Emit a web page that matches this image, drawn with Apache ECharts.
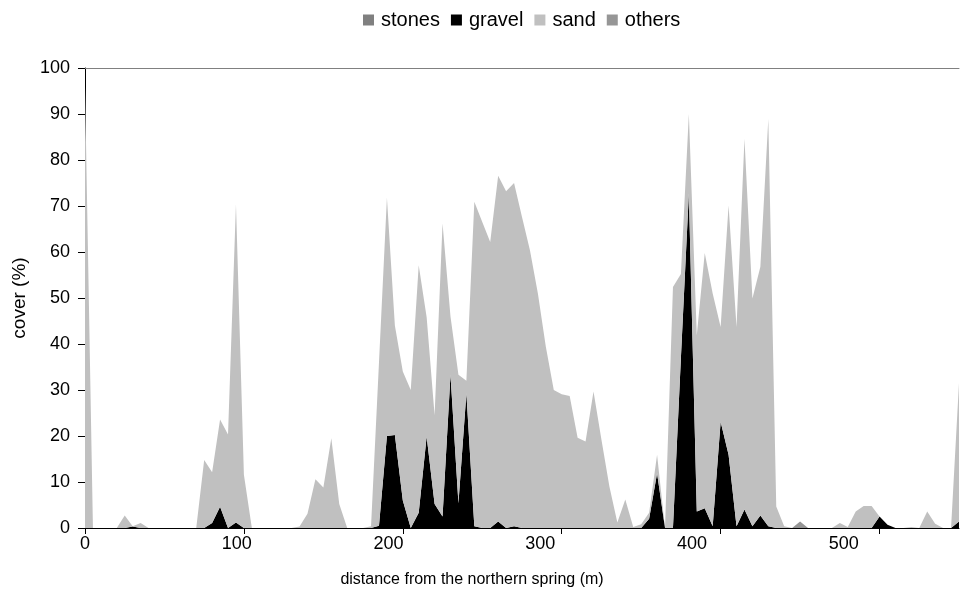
<!DOCTYPE html>
<html>
<head>
<meta charset="utf-8">
<script src="https://cdn.jsdelivr.net/npm/echarts@6/dist/echarts.min.js"></script>
<style>html,body{margin:0;padding:0;background:#fff}#c{width:962px;height:609px}</style>
</head>
<body>
<div id="c"></div>
<script>
// distance (m), sampled every 5 m
const distances = [];
for (let d = 0; d <= 550; d += 5) distances.push(d);

const xTickLabels = [0, 100, 200, 300, 400, 500];

// cover values (%) per 5 m sample, index 0..110
const stones = [
  0,0,0,0,0,0,0,0,0,0, 0,0,0,0,0,0,0,0,0,0,
  0,0,0,0,0,0,0,0,0,0, 0,0,0,0,0,0,0,0,0,0,
  0,0,0,0,0,0,0,0,0,0, 0,0,0,0,0,0,0,0,0,0,
  0,0,0,0,0,0,0,0,0,0, 0,0,0,0,0,0,0,0,0,0,
  0,0,0,0,0,0,0,0,0,0, 0,0,0,0,0,0,0,0,0,0,
  0,0,0,0,0,0,0,0,0,0, 0
];
const gravel = [
  0,0,0,0,0,0,0.3,0,0,0, 0,0,0,0,0,0,1.1,4.6,0,1.2,
  0,0,0,0,0,0,0,0,0,0, 0,0,0,0,0,0,0,0.5,20,20.2,
  6,0,3.3,19.9,5.2,2.5,33.3,5.4,29.3,0.4, 0,0,1.4,0,0.4,0,0,0,0,0,
  0,0,0,0,0,0,0,0,0,0, 0,2,11.9,0,0,37,72.7,3.6,4.3,0.4,
  23.1,15.9,0.4,4.0,0.4,2.7,0.4,0,0,0, 0,0,0,0,0,0,0,0,0,0,
  2.5,0.7,0,0,0,0,0,0,0,0, 1.4
];
const sand = [
  96,0,0,0,0,2.7,0.1,1.1,0,0, 0,0,0,0,0,14.8,11.0,19.0,20.3,69.2,
  11.6,0,0,0,0,0,0,0.3,3.1,10.6, 8.8,19.5,5.2,0,0,0,0.4,35.5,51.8,23.8,
  28,30,53.8,25.9,19.3,63.7,12.7,27.9,2.7,70.5, 66.5,62.2,75.2,73.2,74.6,67.6,60.4,51,39.4,30,
  29.1,28.7,19.6,18.8,29.7,19.2,9,1.2,6.2,0.2, 0.8,1.3,4.0,0,52.4,18.2,17.3,38.3,55.5,50.6,
  20.6,54.2,43.3,80.6,49.5,54.1,88.5,4.7,0.4,0, 0,0,0,0,0,1.1,0.2,3.6,4.8,4.8,
  0,0,0,0,0.2,0,3.6,0.9,0,0, 30.1
];
const others = [
  0,0,0,0,0,0,0,0,0,0, 0,0,0,0,0,0,0,0,0,0,
  0,0,0,0,0,0,0,0,0,0, 0,0,0,0,0,0,0,0,0,0,
  0,0,0,0,0,0,0,0,0,0, 0,0,0,0,0,0,0,0,0,0,
  0,0,0,0,0,0,0,0,0,0, 0,0,0,0,0,0,0,0,0,0,
  0,0,0,0,0,0,0,0,0,0, 1.4,0,0,0,0,0,0,0,0,0,
  0,0,0,0,0,0,0,0,0,0, 0
];

const seriesNames = ['stones', 'gravel', 'sand', 'others'];
const seriesData = [stones, gravel, sand, others];
const seriesColors = ['#808080', '#000000', '#C0C0C0', '#969696'];

const font = 'Liberation Sans, Arial, sans-serif';
const chart = echarts.init(document.getElementById('c'));
chart.setOption({
  animation: false,
  backgroundColor: '#fff',
  textStyle: { fontFamily: font },
  legend: {
    top: 5, left: 358,
    icon: 'rect', itemWidth: 11, itemHeight: 11, itemGap: 11,
    textStyle: { fontSize: 20, color: '#000', fontFamily: font, padding: [0, 0, 0, 2] },
    data: seriesNames
  },
  grid: { left: 85, right: 1, top: 68, bottom: 81 },
  xAxis: [
    {
      type: 'category', data: distances.map(String), boundaryGap: false,
      axisLine: { show: true, lineStyle: { color: '#000', width: 1 } },
      axisTick: { show: true, length: 6, interval: i => i % 20 === 0, lineStyle: { color: '#000' } },
      axisLabel: { show: false }, splitLine: { show: false }
    },
    {
      type: 'value', min: 0, max: 576, interval: 100, position: 'bottom',
      axisLine: { show: false }, axisTick: { show: false }, splitLine: { show: false },
      axisLabel: {
        fontSize: 18, color: '#000', margin: 7, fontFamily: font,
        formatter: v => (xTickLabels.indexOf(v) >= 0 ? String(v) : '')
      },
      name: 'distance from the northern spring (m)', nameLocation: 'middle', nameGap: 44,
      nameTextStyle: { fontSize: 16, color: '#000', fontFamily: font, padding: [0, 100, 0, 0] }
    },
    {
      type: 'value', min: 0, max: 550, position: 'top',
      axisLine: { show: true, lineStyle: { color: '#808080', width: 1 } },
      axisTick: { show: false }, axisLabel: { show: false }, splitLine: { show: false }
    }
  ],
  yAxis: {
    type: 'value', min: 0, max: 100, interval: 10,
    axisLine: { show: true, lineStyle: { color: '#000', width: 1 } },
    axisTick: { show: true, length: 7, lineStyle: { color: '#000' } },
    axisLabel: { fontSize: 18, color: '#000', margin: 15, fontFamily: font },
    splitLine: { show: false },
    name: 'cover (%)', nameLocation: 'middle', nameGap: 52,
    nameTextStyle: { fontSize: 19, color: '#000', fontFamily: font }
  },
  series: seriesNames.map((n, k) => ({
    name: n, type: 'line', stack: 'total', xAxisIndex: 0, yAxisIndex: 0,
    data: seriesData[k],
    showSymbol: false, symbol: 'none',
    color: seriesColors[k],
    lineStyle: { width: 0 },
    itemStyle: { color: seriesColors[k] },
    areaStyle: { color: seriesColors[k], opacity: 1 }
  }))
});
</script>
</body>
</html>
